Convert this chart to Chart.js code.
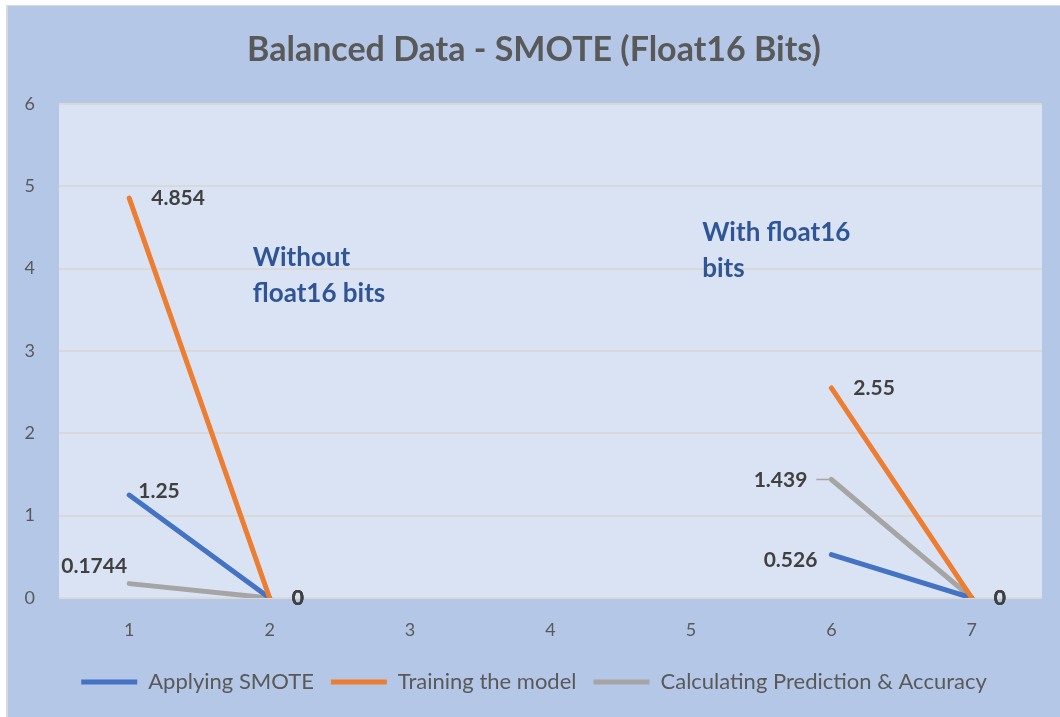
<!DOCTYPE html>
<html>
<head>
<meta charset="utf-8">
<script src="https://cdn.jsdelivr.net/npm/chart.js@4.4.1/dist/chart.umd.min.js"></script>
<style>
  html, body { margin: 0; padding: 0; background: #ffffff; }
  #wrap { width: 1060px; height: 717px; position: relative; }
</style>
</head>
<body>
<div id="wrap"><canvas id="c" width="1060" height="717"></canvas></div>
<script>
// ---- data ----
const categories = ['1', '2', '3', '4', '5', '6', '7'];
const seriesNames = ['Applying SMOTE', 'Training the model', 'Calculating Prediction & Accuracy'];
const applyingSmote = [1.25, 0, null, null, null, 0.526, 0];
const trainingModel = [4.854, 0, null, null, null, 2.55, 0];
const calcPrediction = [0.1744, 0, null, null, null, 1.439, 0];
const yTicks = [0, 1, 2, 3, 4, 5, 6];
const noteWithout = ['Without', 'float16 bits'];
const noteWith = ['With float16', 'bits'];

const colors = ['#4472c4', '#ed7d31', '#a5a5a5'];

// label placement per dataset per point (style only)
const labelPlacement = [
  ['rightUp', 'right', null, null, null, 'left', 'right'],
  ['right', 'right', null, null, null, 'right', 'right'],
  ['aboveLeft', 'right', null, null, null, 'leftLeader', 'right']
];

const bgPlugin = {
  id: 'bg',
  beforeDraw(chart) {
    const ctx = chart.ctx;
    ctx.save();
    ctx.fillStyle = '#ffffff';
    ctx.fillRect(0, 0, chart.width, chart.height);
    ctx.fillStyle = '#d9d9d9';
    ctx.fillRect(6, 5, chart.width - 6, chart.height - 5);
    ctx.fillStyle = '#b4c7e7';
    ctx.fillRect(8, 6, chart.width - 8, chart.height - 6);
    const a = chart.chartArea;
    ctx.fillStyle = '#dae3f3';
    ctx.fillRect(a.left, a.top, a.right - a.left, a.bottom - a.top);
    ctx.restore();
  }
};

const labelPlugin = {
  id: 'dlabels',
  afterDatasetsDraw(chart) {
    const ctx = chart.ctx;
    ctx.save();
    ctx.font = 'bold 21px Lato, "Open Sans", sans-serif';
    ctx.fillStyle = '#404040';
    ctx.textBaseline = 'middle';
    chart.data.datasets.forEach((ds, di) => {
      const meta = chart.getDatasetMeta(di);
      meta.data.forEach((pt, i) => {
        const v = ds.data[i];
        if (v === null || v === undefined) return;
        const place = labelPlacement[di][i];
        const txt = String(v);
        let x = pt.x, y = pt.y;
        if (place === 'right') { ctx.textAlign = 'left'; x += 22; }
        else if (place === 'rightUp') { ctx.textAlign = 'left'; x += 9; y -= 4; }
        else if (place === 'left') { ctx.textAlign = 'right'; x -= 14; y += 6; }
        else if (place === 'leftLeader') {
          ctx.save();
          ctx.strokeStyle = '#a5a5a5';
          ctx.lineWidth = 1.5;
          ctx.beginPath();
          ctx.moveTo(pt.x - 15, pt.y);
          ctx.lineTo(pt.x, pt.y);
          ctx.stroke();
          ctx.restore();
          ctx.textAlign = 'right'; x -= 24; y += 1;
        }
        else if (place === 'aboveLeft') { ctx.textAlign = 'center'; x -= 35; y -= 17; }
        ctx.fillText(txt, x, y);
      });
    });
    // text-box notes, anchored in data units
    const xs = chart.scales.x, ys = chart.scales.y;
    ctx.font = 'bold 26px Lato, "Open Sans", sans-serif';
    ctx.fillStyle = '#2f5597';
    ctx.textAlign = 'left';
    const notes = [
      { lines: noteWithout, xi: 0.88, yv: 4.13 },
      { lines: noteWith, xi: 4.08, yv: 4.44 }
    ];
    notes.forEach(n => {
      const px = xs.getPixelForValue(n.xi);
      const py = ys.getPixelForValue(n.yv);
      n.lines.forEach((l, k) => ctx.fillText(l, px, py + k * 36));
    });
    ctx.restore();
  }
};

const datasets = [applyingSmote, trainingModel, calcPrediction].map((d, i) => ({
  label: seriesNames[i],
  data: d,
  borderColor: colors[i],
  backgroundColor: colors[i],
  borderWidth: 5,
  borderCapStyle: 'round',
  borderJoinStyle: 'round',
  pointRadius: 0,
  pointHoverRadius: 0,
  spanGaps: false,
  tension: 0,
  yAxisID: 'y'
}));
datasets[0].order = 2;
datasets[1].order = 1;
datasets[2].order = 3;

new Chart(document.getElementById('c'), {
  type: 'line',
  data: { labels: categories, datasets },
  plugins: [bgPlugin, labelPlugin],
  options: {
    responsive: false,
    animation: false,
    devicePixelRatio: 1,
    layout: { padding: { left: 8, right: 0, top: 6, bottom: 14 } },
    plugins: {
      tooltip: { enabled: false },
      title: {
        display: true,
        text: 'Balanced Data - SMOTE (Float16 Bits)',
        color: '#595959',
        font: { family: 'Lato, "Open Sans", sans-serif', size: 34, weight: 'bold' },
        padding: { top: 24, bottom: 33 }
      },
      legend: {
        position: 'bottom',
        labels: {
          color: '#595959',
          font: { family: 'Lato, "Open Sans", sans-serif', size: 22 },
          boxWidth: 56,
          boxHeight: 5,
          padding: 17,
          generateLabels(chart) {
            return chart.data.datasets.map((ds, i) => ({
              text: ds.label,
              fillStyle: ds.borderColor,
              strokeStyle: ds.borderColor,
              lineWidth: 0,
              fontColor: '#595959',
              hidden: false,
              datasetIndex: i
            }));
          }
        }
      }
    },
    scales: {
      x: {
        offset: true,
        grid: { display: false, drawTicks: false },
        border: { display: false },
        ticks: {
          color: '#595959',
          font: { family: 'Lato, "Open Sans", sans-serif', size: 18 },
          padding: 21
        },
        afterFit(s) { s.height = 56; }
      },
      y: {
        min: 0,
        max: 6,
        afterBuildTicks(s) { s.ticks = yTicks.map(v => ({ value: v })); },
        grid: { color: '#d9d9d9', lineWidth: 2, drawTicks: false },
        border: { display: false },
        ticks: {
          color: '#595959',
          font: { family: 'Lato, "Open Sans", sans-serif', size: 18 },
          padding: 24
        },
        afterFit(s) { s.width = 51; }
      },
      yRight: {
        position: 'right',
        min: 0,
        max: 6,
        grid: { display: false, drawTicks: false },
        border: { display: false },
        ticks: { display: false },
        afterFit(s) { s.width = 18; }
      }
    }
  }
});
</script>
</body>
</html>
